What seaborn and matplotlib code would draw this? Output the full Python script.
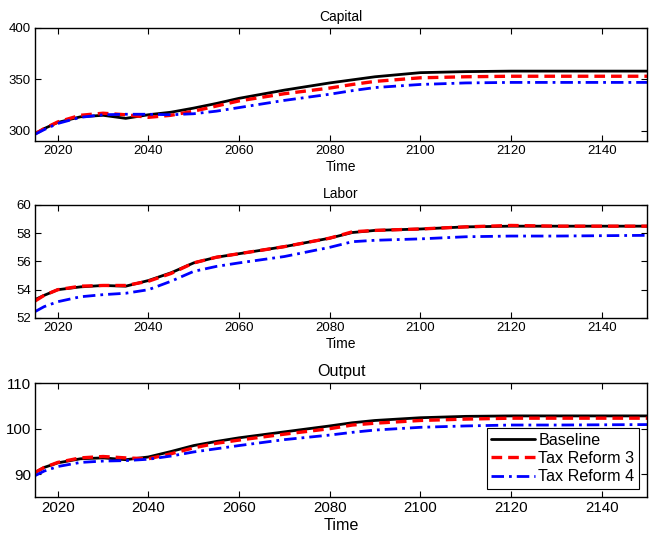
import numpy as np
import pandas as pd
import seaborn as sns
import matplotlib.pyplot as plt

# Data
years = [2015, 2017, 2020, 2025, 2030, 2035, 2040, 2045, 2050, 2055,
         2060, 2070, 2080, 2085, 2090, 2100, 2110, 2120, 2130, 2150]

capital_base = [297, 302, 308, 313.5, 315, 312, 315.5, 318, 322, 326.5,
                331.5, 339.5, 346.5, 349.5, 352.5, 356.5, 357.5, 358, 358, 358]
capital_tr3 = [297, 302, 308.5, 315, 317, 315.5, 313, 315, 319, 324,
               329, 336, 341.5, 345, 348, 351.5, 352.5, 353, 353, 353]
capital_tr4 = [296.5, 301, 307, 313, 315.5, 316, 316, 315.5, 316.5, 319,
               322.5, 329.5, 335.5, 339, 342, 345, 346.5, 347, 347, 347]

labor_base = [53.3, 53.6, 54.0, 54.2, 54.3, 54.25, 54.65, 55.2, 55.9, 56.3,
              56.55, 57.05, 57.65, 58.05, 58.2, 58.3, 58.45, 58.5, 58.5, 58.5]
labor_tr3 = [53.2, 53.6, 54.0, 54.25, 54.3, 54.3, 54.6, 55.15, 55.9, 56.3,
             56.55, 57.05, 57.65, 58.1, 58.2, 58.3, 58.45, 58.55, 58.5, 58.5]
labor_tr4 = [52.45, 52.8, 53.15, 53.5, 53.65, 53.75, 54.0, 54.6, 55.3, 55.65,
             55.9, 56.35, 57.0, 57.4, 57.5, 57.6, 57.75, 57.8, 57.8, 57.85]

output_base = [90.4, 91.5, 92.5, 93.4, 93.6, 93.2, 93.8, 95.0, 96.3, 97.2,
               98.0, 99.3, 100.6, 101.3, 101.8, 102.4, 102.7, 102.8, 102.8, 102.8]
output_tr3 = [90.4, 91.5, 92.6, 93.6, 93.9, 93.6, 93.4, 94.5, 95.8, 96.8,
              97.5, 98.8, 100.0, 100.8, 101.2, 101.8, 102.1, 102.3, 102.3, 102.3]
output_tr4 = [89.7, 90.7, 91.7, 92.6, 92.9, 93.0, 93.3, 94.0, 94.9, 95.6,
              96.3, 97.6, 98.6, 99.2, 99.7, 100.3, 100.6, 100.8, 100.8, 100.9]

series_names = ["Baseline", "Tax Reform 3", "Tax Reform 4"]
colors = ["black", "#ff0000", "#0000ff"]
styles = ["-", (0, (3.2, 1.8)), (0, (4.5, 1.8, 1, 1.8))]
widths = [2.0, 2.4, 2.0]

# Figure formatting
sns.set_style("ticks")
plt.rcParams['font.family'] = ['Liberation Sans', 'DejaVu Sans']
plt.rcParams['text.color'] = 'black'
plt.rcParams['axes.labelcolor'] = 'black'
fig = plt.figure(figsize=(6.49, 5.38), dpi=100)

panels = [
    ("Capital", [capital_base, capital_tr3, capital_tr4], (290, 400), [300, 350, 400], 9.5, 10),
    ("Labor", [labor_base, labor_tr3, labor_tr4], (52, 60), [52, 54, 56, 58, 60], 9.5, 10),
    ("Output", [output_base, output_tr3, output_tr4], (85, 110), [90, 100, 110], 10.8, 11.6),
]
boxes = [[0.054, 0.738, 0.943, 0.210],
         [0.054, 0.409, 0.943, 0.210],
         [0.054, 0.076, 0.943, 0.212]]

for (title, data, ylim, yticks, tfs, lfs), box in zip(panels, boxes):
    ax = fig.add_axes(box)
    for vals, name, c, ls, lw in zip(data, series_names, colors, styles, widths):
        df = pd.DataFrame({"Time": years, "value": vals})
        sns.lineplot(data=df, x="Time", y="value", ax=ax, color=c,
                     linestyle=ls, linewidth=lw, label=name)
    ax.set_xlim(2015, 2150)
    ax.set_ylim(*ylim)
    ax.set_xticks([2020, 2040, 2060, 2080, 2100, 2120, 2140])
    ax.set_yticks(yticks)
    ax.tick_params(which="both", direction="in", top=True, right=True,
                   bottom=True, left=True, labelsize=tfs, length=4,
                   width=0.8, pad=3, color="black", labelcolor="black")
    for s in ax.spines.values():
        s.set_linewidth(1.0)
        s.set_color("black")
    ax.set_title(title, fontsize=lfs, pad=5, color="black")
    ax.set_xlabel("Time", fontsize=lfs, labelpad=2)
    ax.set_ylabel("")
    if title == "Output":
        leg = ax.legend(loc="lower right", bbox_to_anchor=(0.987, 0.07),
                        borderaxespad=0, fontsize=11.6, handlelength=2.7,
                        fancybox=False, framealpha=1, edgecolor="black",
                        borderpad=0.3, labelspacing=0.2, handletextpad=0.2)
        leg.get_frame().set_linewidth(0.8)
    else:
        ax.get_legend().remove()

fig.savefig("out.png", dpi=100)
